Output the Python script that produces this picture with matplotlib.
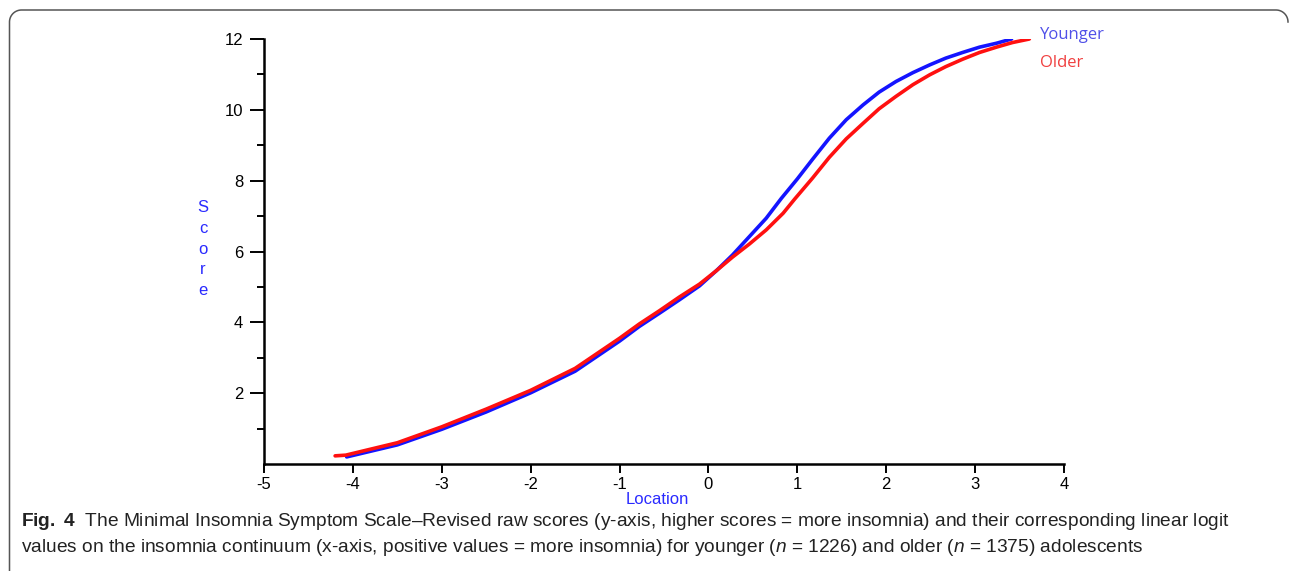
import numpy as np
import matplotlib
matplotlib.use("Agg")
import matplotlib.pyplot as plt
from matplotlib.lines import Line2D

plt.rcParams['font.family'] = ['Liberation Sans', 'DejaVu Sans']
plt.rcParams['axes.unicode_minus'] = False
plt.rcParams['mathtext.fontset'] = 'custom'
plt.rcParams['mathtext.rm'] = 'Liberation Sans'
plt.rcParams['mathtext.it'] = 'Liberation Sans:italic'
plt.rcParams['mathtext.bf'] = 'Liberation Sans:bold'

# Younger adolescents (blue)
younger_loc = [-4.07, -3.5, -3.0, -2.5, -2.0, -1.5, -1.0, -0.78, -0.55, -0.33,
               -0.10, 0.09, 0.27, 0.46, 0.65, 0.82, 1.0, 1.17, 1.36, 1.55,
               1.74, 1.92, 2.11, 2.30, 2.49, 2.67, 2.86, 3.05, 3.24, 3.41]
younger_score = [0.2, 0.54, 0.98, 1.47, 2.01, 2.62, 3.47, 3.88, 4.26, 4.63,
                 5.03, 5.46, 5.90, 6.42, 6.94, 7.5, 8.05, 8.6, 9.2, 9.72,
                 10.14, 10.5, 10.80, 11.05, 11.27, 11.46, 11.62, 11.77, 11.88, 12.0]

# Older adolescents (red)
older_loc = [-4.2, -4.08, -3.5, -3.0, -2.5, -2.0, -1.5, -1.0, -0.78, -0.55,
             -0.33, -0.10, 0.09, 0.27, 0.46, 0.65, 0.84, 0.97, 1.17, 1.36,
             1.55, 1.74, 1.92, 2.11, 2.30, 2.49, 2.67, 2.86, 3.05, 3.24, 3.42, 3.61]
older_score = [0.23, 0.25, 0.60, 1.05, 1.55, 2.08, 2.70, 3.55, 3.95, 4.33,
               4.71, 5.08, 5.46, 5.84, 6.21, 6.61, 7.08, 7.48, 8.07, 8.66,
               9.18, 9.62, 10.03, 10.38, 10.71, 10.99, 11.22, 11.43, 11.62, 11.77, 11.90, 12.0]

x_ticks = [-5, -4, -3, -2, -1, 0, 1, 2, 3, 4]
y_ticks = [2, 4, 6, 8, 10, 12]
y_minor = [1, 3, 5, 7, 9, 11]

W, H = 1292, 571
fig = plt.figure(figsize=(W / 100, H / 100), dpi=100)
fig.patch.set_facecolor('white')

# axes placed in pixel terms of the reference
ax = fig.add_axes([264 / W, 1 - 464 / H, (1064 - 264) / W, (464 - 39) / H])
ax.plot(younger_loc, younger_score, color='#1414ff', lw=2.6,
        solid_capstyle='round', solid_joinstyle='round')
ax.plot(older_loc, older_score, color='#ff1010', lw=2.6,
        solid_capstyle='round', solid_joinstyle='round')

ax.set_xlim(-5, 4)
ax.set_ylim(0, 12)
ax.set_xticks(x_ticks)
ax.set_xticklabels([str(v) for v in x_ticks], fontsize=12)
ax.set_yticks(y_ticks)
ax.set_yticklabels([str(v) for v in y_ticks], fontsize=12)
ax.set_yticks(y_minor, minor=True)
ax.tick_params(axis='y', which='major', direction='out', length=10, width=1.4, pad=5)
ax.tick_params(axis='y', which='minor', direction='out', length=5, width=1.4)
ax.tick_params(axis='x', which='major', direction='out', length=6.5, width=1.4, pad=3)
for s in ['top', 'right']:
    ax.spines[s].set_visible(False)
for s in ['left', 'bottom']:
    ax.spines[s].set_linewidth(1.8)
ax.patch.set_alpha(0)

# axis labels as in the original program output
fig.text(657 / W, 1 - 500 / H, 'Location', color='#2a2aff', fontsize=12,
         ha='center', va='center')
fig.text(203 / W, 1 - 249 / H, 'S\nc\no\nr\ne', color='#2a2aff', fontsize=12,
         ha='center', va='center', linespacing=1.48)

# series labels
fig.text(1040 / W, 1 - 35 / H, 'Younger', color='#5050e8', fontsize=12,
         family='Open Sans', ha='left', va='center')
fig.text(1040 / W, 1 - 63 / H, 'Older', color='#f04040', fontsize=12,
         family='Open Sans', ha='left', va='center')

# caption
line1 = (r'$\bf{Fig.\ 4}$  The Minimal Insomnia Symptom Scale–Revised raw scores '
         r'(y-axis, higher scores = more insomnia) and their corresponding linear logit')
line2 = (r'values on the insomnia continuum (x-axis, positive values = more insomnia) '
         r'for younger ($n$ = 1226) and older ($n$ = 1375) adolescents')
fig.text(21 / W, 1 - 522 / H, line1, fontsize=13.8, ha='left', va='center', color='#222222')
fig.text(21 / W, 1 - 548 / H, line2, fontsize=13.8, ha='left', va='center', color='#222222')

# frame with rounded top corners
r = 12
t = np.linspace(np.pi, np.pi / 2, 20)
left_arc_x = 9.5 + r + r * np.cos(t)
left_arc_y = 10 + r - r * np.sin(t)
t2 = np.linspace(np.pi / 2, 0, 20)
right_arc_x = 1288 - r + r * np.cos(t2)
right_arc_y = 10 + r - r * np.sin(t2)
fx = np.concatenate([[9.5], left_arc_x, right_arc_x])
fy = np.concatenate([[H], left_arc_y, right_arc_y])
fig.add_artist(Line2D(fx / W, 1 - fy / H, transform=fig.transFigure,
                      color='#555555', lw=1.1))

fig.savefig('out.png', dpi=100)
